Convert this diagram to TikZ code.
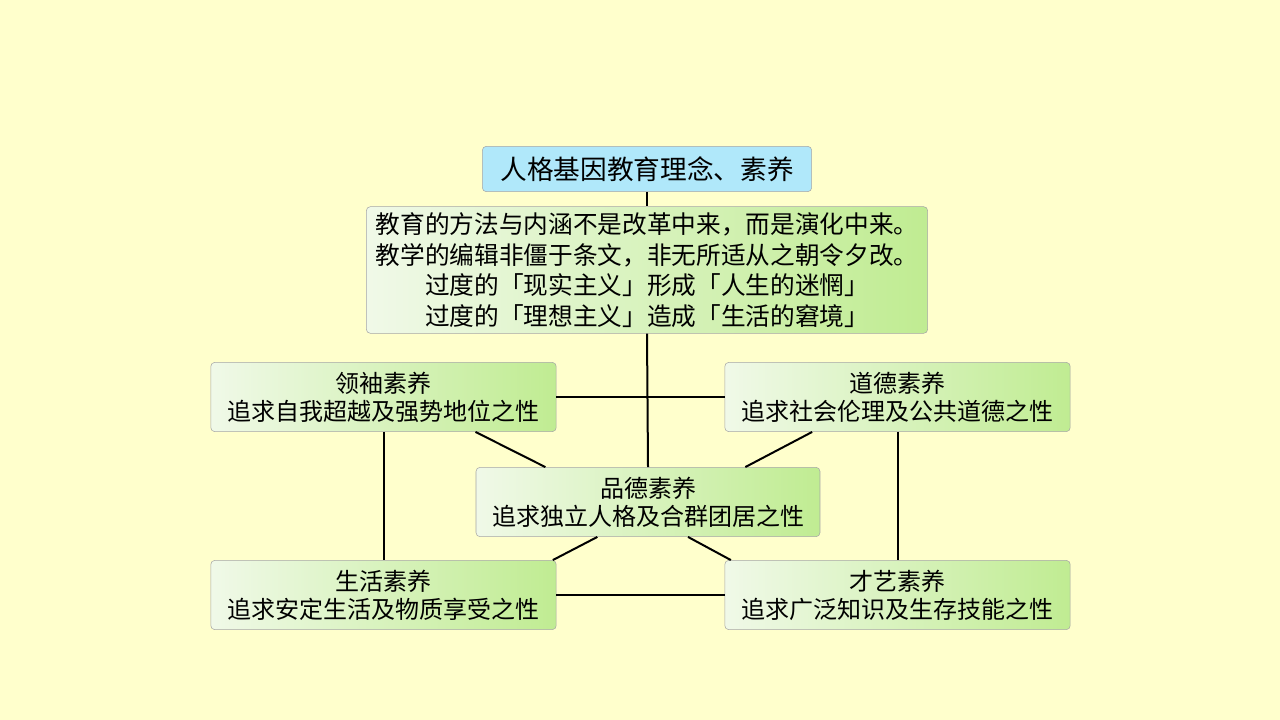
\documentclass[tikz,border=0pt]{standalone}
\usepackage{fontspec}
\setmainfont{Noto Sans CJK SC}
\definecolor{paper}{RGB}{255,255,204}
\definecolor{boxleft}{RGB}{240,249,232}
\definecolor{boxright}{RGB}{192,236,146}
\definecolor{titlefill}{RGB}{176,232,250}
\begin{document}
\begin{tikzpicture}[x=0.75pt,y=-0.75pt,
  box/.style={draw=gray!70,rounded corners=3pt,left color=boxleft,right color=boxright,
    align=center,font=\fontsize{18}{21}\selectfont,inner sep=0pt},
  link/.style={line width=1.5pt,black}]
 \fill[paper](0,0) rectangle (1280,720);
 \useasboundingbox (0,0) rectangle (1280,720);
 % title and main text
 \node[draw=gray!70,rounded corners=3pt,fill=titlefill,minimum width=247pt,minimum height=34pt,
   font=\fontsize{20}{22}\selectfont,inner sep=0pt] (title) at (647,169) {人格基因教育理念、素养};
 \node[box,minimum width=421pt,minimum height=95pt,font=\fontsize{18.5}{23}\selectfont] (idea) at (647,270)
   {教育的方法与内涵不是改革中来，而是演化中来。\\教学的编辑非僵于条文，非无所适从之朝令夕改。\\过度的「现实主义」形成「人生的迷惘」\\过度的「理想主义」造成「生活的窘境」};
 % five boxes
 \node[box,minimum width=259pt,minimum height=52pt] (lead) at (383.5,397) {领袖素养\\追求自我超越及强势地位之性};
 \node[box,minimum width=259pt,minimum height=52pt] (moral) at (897.5,397) {道德素养\\追求社会伦理及公共道德之性};
 \node[box,minimum width=258pt,minimum height=52pt] (virtue) at (648,502) {品德素养\\追求独立人格及合群团居之性};
 \node[box,minimum width=259pt,minimum height=52pt] (life) at (383.5,595) {生活素养\\追求安定生活及物质享受之性};
 \node[box,minimum width=259pt,minimum height=52pt] (talent) at (897.5,595) {才艺素养\\追求广泛知识及生存技能之性};
 % links
 \draw[link](title.south)--(idea.north);
 \draw[link](idea.south)--(virtue.north);
 \draw[link](lead.east)--(moral.west);
 \draw[link](life.east)--(talent.west);
 \draw[link](lead.south)--(life.north);
 \draw[link](moral.south)--(talent.north);
 \draw[link]([xshift=69pt]lead.south)--([xshift=-77pt]virtue.north);
 \draw[link]([xshift=-64pt]moral.south)--([xshift=73pt]virtue.north);
 \draw[link]([xshift=-38pt]virtue.south)--([xshift=127pt]life.north);
 \draw[link]([xshift=30pt]virtue.south)--([xshift=-125pt]talent.north);
\end{tikzpicture}
\end{document}
